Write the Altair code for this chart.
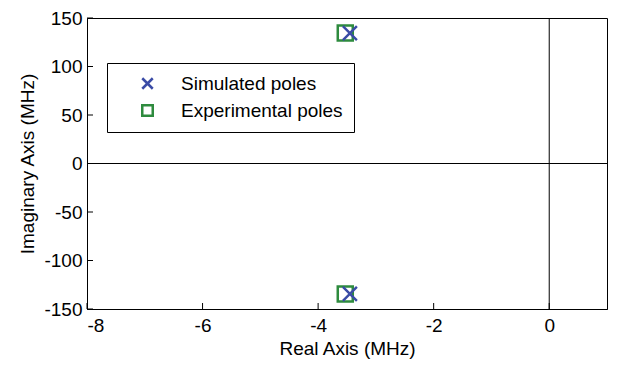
import altair as alt
import pandas as pd

# ---- data ----
series_names = ["Simulated poles", "Experimental poles"]
sim_re = [-3.45, -3.45]
sim_im = [134.5, -134.5]
exp_re = [-3.53, -3.53]
exp_im = [134.5, -134.5]
x_ticks = [-8, -6, -4, -2, 0]
y_ticks = [-150, -100, -50, 0, 50, 100, 150]
x_domain = [-8, 1]
y_domain = [-150, 150]
zero_lines = [0]

W, H = 520, 291
FONT = "Liberation Sans"
FS = 19
BLUE = "#3A4BA6"
GREEN = "#2E8B3E"
XPATH = "M-1,-1L1,1M-1,1L1,-1"
LBL = "'' + datum.value"

sim_df = pd.DataFrame({"re": sim_re, "im": sim_im, "series": series_names[0]})
exp_df = pd.DataFrame({"re": exp_re, "im": exp_im, "series": series_names[1]})

xs = alt.Scale(domain=x_domain, nice=False, zero=False)
ys = alt.Scale(domain=y_domain, nice=False, zero=False)

xax = alt.Axis(values=x_ticks, ticks=False, grid=False, domain=True, domainColor="black",
               domainWidth=1, labelExpr=LBL,
               labelFontSize=FS, titleFontSize=FS, labelPadding=7, titlePadding=4,
               title="Real Axis (MHz)", labelColor="black", titleColor="black",
               labelFont=FONT, titleFont=FONT, titleFontWeight="normal")
yax = alt.Axis(values=y_ticks, ticks=False, grid=False, domain=True, domainColor="black",
               domainWidth=1, labelExpr=LBL,
               labelFontSize=FS, titleFontSize=FS, labelPadding=5, titlePadding=6,
               title="Imaginary Axis (MHz)", labelColor="black", titleColor="black",
               labelFont=FONT, titleFont=FONT, titleFontWeight="normal")

color = alt.Color("series:N", scale=alt.Scale(domain=series_names, range=[BLUE, GREEN]),
                  legend=alt.Legend(title=None, orient="none", legendX=20, legendY=45,
                                    labelFontSize=FS, labelFont=FONT, labelColor="black",
                                    labelLimit=400,
                                    symbolSize=110, symbolStrokeWidth=2.5,
                                    padding=11, rowPadding=6, symbolOffset=20,
                                    labelOffset=24, strokeColor="black",
                                    fillColor="white"))
shape = alt.Shape("series:N", scale=alt.Scale(domain=series_names, range=[XPATH, "square"]))

exp_layer = alt.Chart(exp_df).mark_point(filled=False, size=225, strokeWidth=2.5, opacity=1).encode(
    x=alt.X("re:Q", scale=xs, axis=xax),
    y=alt.Y("im:Q", scale=ys, axis=yax),
    color=color, shape=shape)

sim_layer = alt.Chart(sim_df).mark_point(filled=False, size=196, strokeWidth=2.5, opacity=1).encode(
    x=alt.X("re:Q", scale=xs),
    y=alt.Y("im:Q", scale=ys),
    color=color, shape=shape)

zero_df = pd.DataFrame({"z": zero_lines})
vline = alt.Chart(zero_df).mark_rule(color="black", strokeWidth=1).encode(x=alt.X("z:Q", scale=xs))
hline = alt.Chart(zero_df).mark_rule(color="black", strokeWidth=1).encode(y=alt.Y("z:Q", scale=ys))

xt_df = pd.DataFrame({"t": x_ticks})
yt_df = pd.DataFrame({"t": y_ticks})
xticks = alt.Chart(xt_df).mark_rule(color="black", strokeWidth=1).encode(
    x=alt.X("t:Q", scale=xs), y=alt.value(H - 6), y2=alt.value(H))
yticks = alt.Chart(yt_df).mark_rule(color="black", strokeWidth=1).encode(
    y=alt.Y("t:Q", scale=ys), x=alt.value(0), x2=alt.value(6))

chart = alt.layer(vline, hline, xticks, yticks, exp_layer, sim_layer).properties(
    width=W, height=H,
    padding={"left": 79, "top": 10, "right": 4, "bottom": 52},
    autosize=alt.AutoSizeParams(type="none"),
    background="white",
).configure_view(stroke="black", strokeWidth=1)

chart.save("out.html", embed_options={"renderer": "svg", "actions": False})
